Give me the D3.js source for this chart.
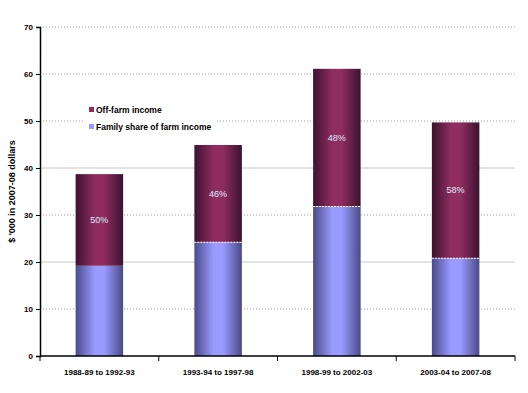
<!DOCTYPE html>
<html>
<head>
<meta charset="utf-8">
<script src="https://cdn.jsdelivr.net/npm/d3@7"></script>
<style>
body{margin:0;background:#fff;}
text{font-family:"Liberation Sans",Arial,sans-serif;}
</style>
</head>
<body>
<div id="chart"></div>
<script>
const periods = ['1988-89 to 1992-93','1993-94 to 1997-98','1998-99 to 2002-03','2003-04 to 2007-08'];
const farmShare = [19.2, 24.2, 31.8, 20.8];
const offFarm = [19.5, 20.7, 29.3, 28.9];
const shareLabels = ['50%','46%','48%','58%'];
const yTicks = [0,10,20,30,40,50,60,70];

const margin = {top:27, right:13, bottom:37, left:40};
const width = 528 - margin.left - margin.right;
const height = 393 - margin.top - margin.bottom;

const xscale = d3.scaleBand()
.domain(periods)
.range([0,width])
.paddingInner(0.6)
.paddingOuter(0.3);

const yscale = d3.scaleLinear()
.domain([0,70])
.range([height,0]);

const svg = d3.select('#chart')
.append('svg')
.attr('width',528)
.attr('height',393)
.append('g')
.attr('transform',`translate(${margin.left},${margin.top})`);

// gradients, dark edges lighter middle
const defs = svg.append('defs');
function grad(id, edge, mid){
    const g = defs.append('linearGradient').attr('id',id).attr('x1','0%').attr('x2','100%');
    g.append('stop').attr('offset','0%').attr('stop-color',edge);
    g.append('stop').attr('offset','40%').attr('stop-color',mid);
    g.append('stop').attr('offset','60%').attr('stop-color',mid);
    g.append('stop').attr('offset','100%').attr('stop-color',edge);
}
grad('gOff','#3c1330','#8f2c60');
grad('gFarm','#4a4a88','#9a9aff');

// grid
svg.selectAll('.grid')
.data(yTicks.slice(1))
.enter()
.append('line')
.attr('x1',0)
.attr('x2',width)
.attr('y1',d=>yscale(d))
.attr('y2',d=>yscale(d))
.attr('stroke',d=> (d==20||d==40) ? '#c8c8c8' : '#999')
.attr('stroke-dasharray',d=> (d==20||d==40) ? null : '1,2');

// bars
const bars = svg.selectAll('.bar')
.data(periods)
.enter()
.append('g');

bars.append('rect')
.attr('x',d=>xscale(d))
.attr('width',xscale.bandwidth())
.attr('y',(d,i)=>yscale(farmShare[i]))
.attr('height',(d,i)=>height-yscale(farmShare[i]))
.attr('fill','url(#gFarm)');

bars.append('rect')
.attr('x',d=>xscale(d))
.attr('width',xscale.bandwidth())
.attr('y',(d,i)=>yscale(farmShare[i]+offFarm[i]))
.attr('height',(d,i)=>yscale(farmShare[i])-yscale(farmShare[i]+offFarm[i]))
.attr('fill','url(#gOff)');

bars.filter((d,i)=>i>0).append('line')
.attr('x1',d=>xscale(d))
.attr('x2',d=>xscale(d)+xscale.bandwidth())
.attr('y1',(d,i)=>yscale(farmShare[i+1]))
.attr('y2',(d,i)=>yscale(farmShare[i+1]))
.attr('stroke','#fff')
.attr('stroke-dasharray','2,1');

bars.append('text')
.attr('x',d=>xscale(d)+xscale.bandwidth()/2)
.attr('y',(d,i)=>yscale(farmShare[i]+offFarm[i]/2)+3)
.attr('text-anchor','middle')
.attr('font-size',9)
.attr('fill','#d8f0ff')
.text((d,i)=>shareLabels[i]);

// axes
const yaxis = svg.append('g')
.call(d3.axisLeft(yscale).tickValues(yTicks).tickSize(4).tickPadding(3));
yaxis.select('.domain').attr('stroke','#000').attr('stroke-width',1.5);
yaxis.selectAll('text').attr('font-size',8).attr('font-weight','bold');

const xaxis = svg.append('g')
.attr('transform',`translate(0,${height})`);
xaxis.append('line').attr('x1',0).attr('x2',width).attr('stroke','#000').attr('stroke-width',1.5);
xaxis.selectAll('.tk')
.data(d3.range(periods.length+1))
.enter()
.append('line')
.attr('x1',d=>d*width/periods.length)
.attr('x2',d=>d*width/periods.length)
.attr('y1',0).attr('y2',5)
.attr('stroke','#000');
xaxis.selectAll('.lbl')
.data(periods)
.enter()
.append('text')
.attr('x',d=>xscale(d)+xscale.bandwidth()/2)
.attr('y',19)
.attr('text-anchor','middle')
.attr('font-size',8)
.attr('font-weight','bold')
.text(d=>d);

// y title
svg.append('text')
.attr('transform',`translate(${-25},${yscale(35)}) rotate(-90)`)
.attr('text-anchor','middle')
.attr('font-size',9)
.attr('font-weight','bold')
.text("$ '000 in 2007-08 dollars");

// legend
const legend = svg.append('g').attr('transform','translate(45,75)');
legend.append('rect').attr('x',0).attr('y',0).attr('width',132).attr('height',32).attr('fill','#fff');
const items = [['Off-farm income','#8f2c60'],['Family share of farm income','#9a9aff']];
items.forEach(function(it,i){
    legend.append('rect').attr('x',4).attr('y',5+i*17).attr('width',5).attr('height',5).attr('fill',it[1]);
    legend.append('text').attr('x',11).attr('y',11+i*17)
    .attr('font-size',8.5).attr('font-weight','bold').text(it[0]);
});
</script>
</body>
</html>
